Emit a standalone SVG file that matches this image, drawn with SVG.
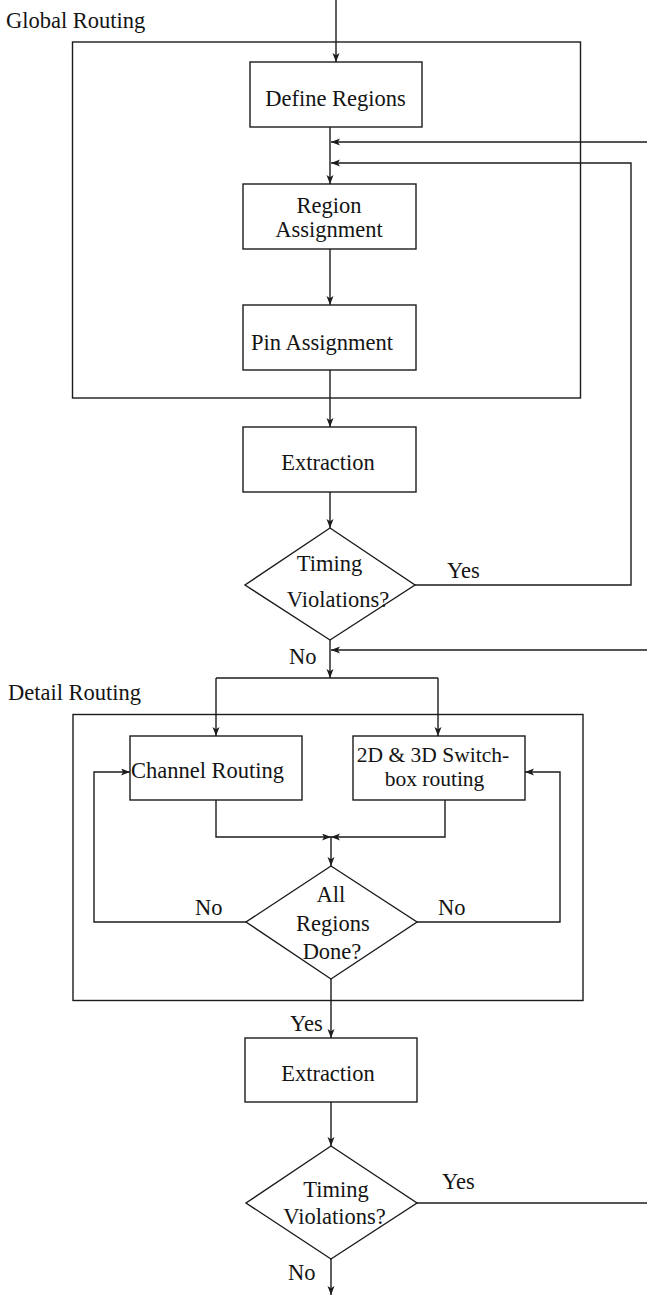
<svg xmlns="http://www.w3.org/2000/svg" width="647" height="1295" viewBox="0 0 647 1295">
  <style>
    .box { fill: none; stroke: #1c1c1c; stroke-width: 1.4; }
    .frame { fill: none; stroke: #1c1c1c; stroke-width: 1.4; }
    .wire { fill: none; stroke: #1c1c1c; stroke-width: 1.4; }
    .arr { marker-end: url(#head); }
    text { font-family: "Liberation Serif", "Times New Roman", serif; font-size: 22.5px; fill: #141414; }
    .c { text-anchor: middle; }
    .tight { font-size: 21.5px; }
  </style>
  <defs>
    <marker id="head" markerUnits="userSpaceOnUse" markerWidth="10" markerHeight="8" refX="9" refY="3.5" orient="auto">
      <path d="M0,0 L9,3.5 L0,7 L2.2,3.5 z" fill="#1c1c1c"/>
    </marker>
  </defs>
  <rect width="647" height="1295" fill="#ffffff"/>

  <!-- grouping frames -->
  <g id="global-routing">
    <rect class="frame" x="72.5" y="42" width="508" height="356"/>
    <text x="6" y="28">Global Routing</text>
  </g>
  <g id="detail-routing">
    <rect class="frame" x="73" y="714.5" width="510" height="286"/>
    <text x="8" y="700">Detail Routing</text>
  </g>

  <!-- connectors -->
  <g id="connectors">
    <path class="wire arr" d="M336,0 V62"/>
    <path class="wire arr" d="M330,127 V184"/>
    <path class="wire arr" d="M647,142 H331"/>
    <path class="wire arr" d="M415,585 H631 V163 H331"/>
    <path class="wire arr" d="M330,249 V305"/>
    <path class="wire arr" d="M330,370 V427"/>
    <path class="wire arr" d="M330,492 V528"/>
    <path class="wire arr" d="M330,640 V678"/>
    <path class="wire arr" d="M647,650 H331"/>
    <path class="wire" d="M216,678 H438"/>
    <path class="wire arr" d="M216,678 V736"/>
    <path class="wire arr" d="M438,678 V736"/>
    <path class="wire arr" d="M216,800 V837 H331"/>
    <path class="wire arr" d="M445,800 V837 H331"/>
    <path class="wire arr" d="M331,837 V866"/>
    <path class="wire arr" d="M246,922 H94 V772 H130"/>
    <path class="wire arr" d="M417,922 H560 V772 H525"/>
    <path class="wire arr" d="M331,979 V1038"/>
    <path class="wire arr" d="M331,1102 V1146"/>
    <path class="wire" d="M417,1203 H647"/>
    <path class="wire arr" d="M331,1259 V1295"/>
    <text x="447" y="578">Yes</text>
    <text x="289" y="664">No</text>
    <text x="195" y="915">No</text>
    <text x="438" y="915">No</text>
    <text x="290" y="1031">Yes</text>
    <text x="442" y="1189">Yes</text>
    <text x="288" y="1280">No</text>
  </g>

  <!-- process steps -->
  <g id="define-regions">
    <rect class="box" x="250" y="62" width="172" height="65"/>
    <text class="c" x="335.5" y="106">Define Regions</text>
  </g>
  <g id="region-assignment">
    <rect class="box" x="243" y="184" width="173" height="65"/>
    <text class="c" x="329" y="213">Region</text>
    <text class="c" x="329" y="237">Assignment</text>
  </g>
  <g id="pin-assignment">
    <rect class="box" x="243" y="305" width="173" height="65"/>
    <text x="251" y="350">Pin Assignment</text>
  </g>
  <g id="extraction-1">
    <rect class="box" x="243" y="427" width="173" height="65"/>
    <text class="c" x="328" y="470">Extraction</text>
  </g>
  <g id="timing-check-1">
    <polygon class="box" points="330,528 415,585 330,640 245,585"/>
    <text class="c" x="329.5" y="571">Timing</text>
    <text class="c" x="338" y="607">Violations?</text>
  </g>
  <g id="channel-routing">
    <rect class="box" x="130" y="736" width="172" height="64"/>
    <text x="131" y="778">Channel Routing</text>
  </g>
  <g id="switchbox-routing">
    <rect class="box" x="353" y="736" width="172" height="64"/>
    <text class="c tight" x="433" y="762">2D &amp; 3D Switch-</text>
    <text class="c tight" x="434.5" y="786">box routing</text>
  </g>
  <g id="all-regions-done">
    <polygon class="box" points="331,866 417,922 331,979 246,922"/>
    <text class="c" x="331" y="902">All</text>
    <text class="c" x="333" y="931">Regions</text>
    <text class="c" x="332" y="959">Done?</text>
  </g>
  <g id="extraction-2">
    <rect class="box" x="245" y="1038" width="172" height="64"/>
    <text class="c" x="328" y="1081">Extraction</text>
  </g>
  <g id="timing-check-2">
    <polygon class="box" points="331,1146 417,1203 331,1259 246,1203"/>
    <text class="c" x="336" y="1197">Timing</text>
    <text class="c" x="334.5" y="1224">Violations?</text>
  </g>
</svg>
